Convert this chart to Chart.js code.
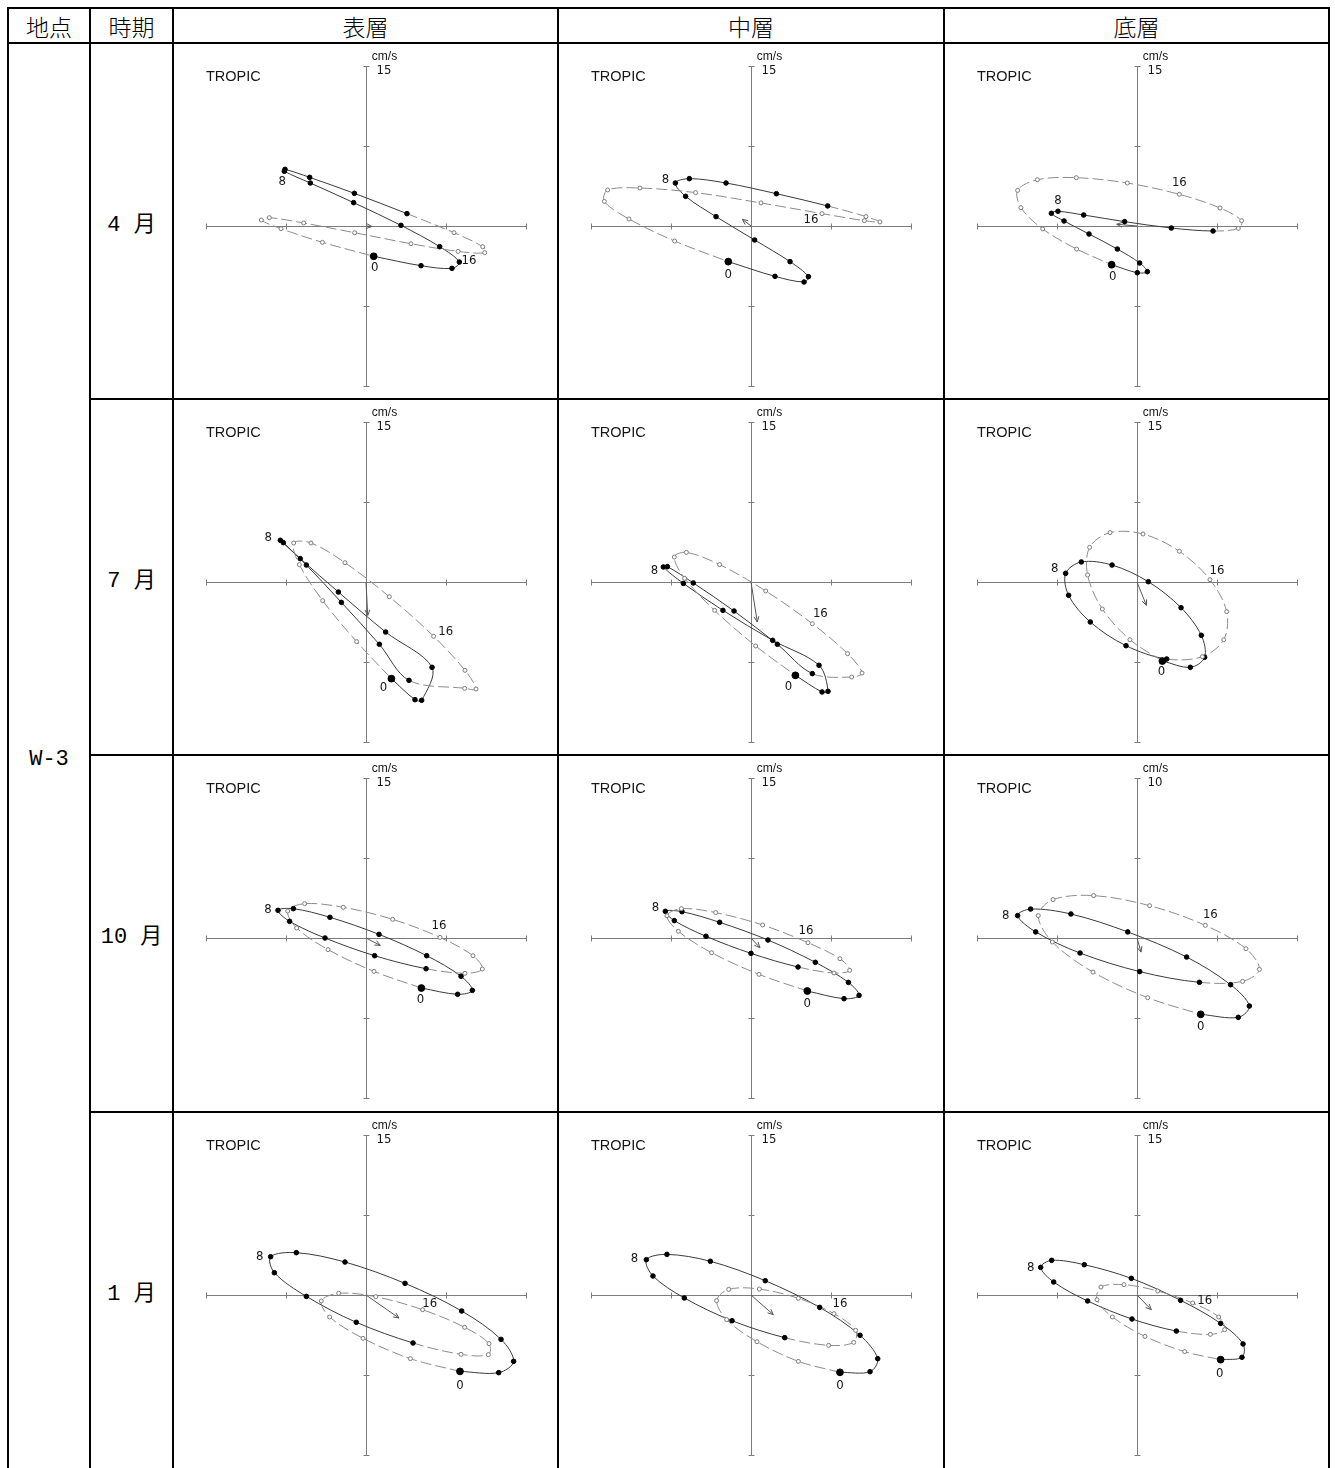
<!DOCTYPE html>
<html lang="ja">
<head>
<meta charset="utf-8">
<title>W-3 潮流楕円</title>
<script src="https://cdn.jsdelivr.net/npm/chart.js"></script>
<style>
  html, body { margin: 0; padding: 0; background: #fff; overflow: hidden; }
  #sheet { position: relative; width: 1335px; height: 1468px; overflow: hidden; }
  .rule { position: absolute; background: #000; }
  .txt { position: absolute; display: flex; align-items: center; justify-content: center; color: #000; white-space: pre; }
  canvas { position: absolute; }
</style>
</head>
<body>
<div id="sheet"></div>
<script>
// ---- table text ----
const stationName = 'W-3';
const headerNames = ['地点', '時期', '表層', '中層', '底層'];
const monthNames = ['4 月', '7 月', '10 月', '1 月'];
const hourMarks = [0, 8, 16];
// full-scale value of each panel's axes (cm/s), row by row
const axisMax = [15, 15, 15, 15, 15, 15, 15, 15, 10, 15, 15, 15];

// ---- hourly current vectors, hours 0..23 (u: east, v: north, cm/s) ----
const aprSurfaceU = [0.72, 5.16, 8.06, 8.75, 6.91, 3.28, -1.16, -5.22, -7.66, -7.59, -5.28, -1.09, 3.84, 8.25, 10.94, 11.13, 8.63, 4.22, -1.06, -5.84, -9.06, -9.81, -7.97, -4.09];
const aprSurfaceV = [-2.84, -3.72, -3.97, -3.38, -1.94, 0.06, 2.19, 4.03, 5.13, 5.31, 4.56, 3.06, 1.16, -0.63, -1.94, -2.50, -2.38, -1.66, -0.63, 0.28, 0.78, 0.56, -0.25, -1.53];
const aprMiddleU = [-2.13, 2.25, 4.97, 5.38, 3.66, 0.34, -3.28, -6.13, -7.09, -5.78, -2.34, 2.38, 7.19, 10.78, 12.09, 10.63, 6.66, 0.94, -5.19, -10.41, -13.44, -13.75, -11.44, -7.16];
const aprMiddleV = [-3.34, -4.72, -5.25, -4.75, -3.34, -1.31, 0.88, 2.78, 4.03, 4.44, 4.03, 3.03, 1.88, 0.88, 0.38, 0.50, 1.16, 2.16, 3.13, 3.56, 3.38, 2.31, 0.66, -1.41];
const aprBottomU = [-2.38, 0.03, 0.97, 0.25, -1.84, -4.50, -6.84, -8.03, -7.41, -5.00, -1.16, 3.22, 7.13, 9.50, 9.81, 7.78, 3.97, -0.91, -5.69, -9.34, -11.19, -10.88, -8.84, -5.66];
const aprBottomV = [-3.63, -4.38, -4.28, -3.47, -2.16, -0.75, 0.47, 1.19, 1.38, 1.03, 0.41, -0.19, -0.47, -0.22, 0.50, 1.69, 2.97, 4.03, 4.53, 4.34, 3.34, 1.72, -0.28, -2.16];

const julSurfaceU = [2.38, 4.59, 5.22, 6.19, 1.84, -2.59, -6.16, -8.03, -7.75, -5.59, -2.31, 1.25, 4.03, 9.25, 10.31, 9.28, 6.34, 2.19, -1.97, -5.16, -6.78, -6.25, -4.06, -0.88];
const julSurfaceV = [-9.06, -11.03, -11.09, -8.00, -4.69, -0.94, 2.19, 3.91, 3.69, 1.59, -1.91, -5.84, -9.22, -9.97, -10.03, -8.28, -5.09, -1.38, 1.81, 3.66, 3.66, 1.63, -1.75, -5.59];
const julMiddleU = [4.16, 6.66, 7.22, 6.38, 2.03, -2.63, -6.34, -8.22, -7.84, -5.41, -1.59, 2.47, 5.75, 9.44, 10.41, 9.06, 5.75, 1.38, -2.94, -6.06, -7.19, -6.22, -3.41, 0.44];
const julMiddleV = [-8.75, -10.31, -10.25, -7.81, -5.47, -2.66, -0.13, 1.41, 1.44, -0.09, -2.72, -5.84, -8.59, -8.91, -8.53, -6.72, -3.91, -0.84, 1.63, 2.78, 2.34, 0.34, -2.66, -6.00];
const julBottomU = [2.38, 5.00, 6.34, 6.03, 4.13, 1.06, -2.34, -5.22, -6.69, -6.41, -4.38, -1.03, 2.78, 6.13, 8.13, 8.41, 6.84, 3.97, 0.56, -2.53, -4.44, -4.63, -3.25, -0.66];
const julBottomV = [-7.41, -8.00, -7.06, -5.00, -2.41, 0.03, 1.59, 1.88, 0.81, -1.25, -3.75, -5.97, -7.22, -7.00, -5.41, -2.78, 0.22, 2.88, 4.50, 4.63, 3.25, 0.66, -2.53, -5.41];

const octSurfaceU = [5.19, 8.59, 9.97, 8.91, 5.69, 1.22, -3.38, -6.81, -8.25, -7.16, -3.84, 0.81, 5.63, 9.28, 10.91, 10.03, 6.94, 2.50, -2.13, -5.75, -7.34, -6.50, -3.56, 0.75];
const octSurfaceV = [-4.69, -5.28, -4.91, -3.59, -1.66, 0.34, 1.94, 2.75, 2.59, 1.56, 0.00, -1.66, -2.88, -3.31, -2.91, -1.66, 0.06, 1.75, 2.88, 3.22, 2.53, 0.94, -1.09, -3.13];
const octMiddleU = [5.28, 8.72, 10.13, 9.13, 6.03, 1.59, -2.94, -6.47, -8.03, -7.19, -4.22, 0.00, 4.41, 7.78, 9.25, 8.34, 5.34, 1.09, -3.31, -6.53, -7.88, -6.81, -3.69, 0.75];
const octMiddleV = [-4.97, -5.69, -5.38, -4.16, -2.28, -0.19, 1.47, 2.47, 2.50, 1.63, 0.16, -1.44, -2.72, -3.28, -3.03, -1.94, -0.44, 1.22, 2.38, 2.75, 2.09, 0.63, -1.38, -3.41];
const octBottomU = [3.98, 6.33, 7.02, 5.85, 3.10, -0.58, -4.13, -6.65, -7.46, -6.33, -3.56, 0.17, 3.90, 6.60, 7.65, 6.81, 4.27, 0.79, -2.71, -5.25, -6.17, -5.29, -2.75, 0.67];
const octBottomV = [-4.77, -4.96, -4.25, -2.92, -1.19, 0.38, 1.50, 1.81, 1.40, 0.38, -0.94, -2.10, -2.77, -2.71, -1.96, -0.67, 0.79, 2.02, 2.65, 2.40, 1.40, -0.25, -2.13, -3.73];

const janSurfaceU = [8.81, 12.44, 13.84, 12.66, 8.97, 3.66, -1.97, -6.53, -8.94, -8.59, -5.59, -0.91, 4.41, 8.91, 11.47, 11.53, 9.25, 5.31, 0.91, -2.56, -4.19, -3.41, -0.28, 4.16];
const janSurfaceV = [-7.16, -7.28, -6.22, -4.16, -1.50, 1.09, 3.09, 3.97, 3.59, 2.09, -0.13, -2.56, -4.50, -5.56, -5.59, -4.56, -3.03, -1.38, -0.16, 0.16, -0.56, -2.06, -4.06, -5.97];
const janMiddleU = [8.34, 11.16, 11.88, 10.22, 6.44, 1.34, -3.81, -7.88, -9.81, -9.19, -6.25, -1.78, 3.16, 7.28, 9.63, 9.81, 7.78, 4.44, 0.78, -2.09, -3.22, -2.28, 0.56, 4.44];
const janMiddleV = [-7.25, -7.19, -5.97, -3.78, -1.16, 1.34, 3.16, 3.81, 3.31, 1.78, -0.28, -2.41, -4.00, -4.72, -4.44, -3.31, -1.75, -0.31, 0.56, 0.53, -0.53, -2.31, -4.38, -6.22];
const janBottomU = [7.84, 9.84, 9.94, 7.84, 4.09, -0.53, -4.94, -8.00, -9.03, -7.81, -4.63, -0.47, 3.69, 6.88, 8.22, 7.66, 5.22, 1.94, -1.22, -3.38, -3.75, -2.31, 0.75, 4.47];
const janBottomV = [-6.06, -5.84, -4.59, -2.66, -0.50, 1.56, 2.84, 3.25, 2.59, 1.22, -0.56, -2.25, -3.38, -3.69, -3.25, -2.06, -0.75, 0.38, 0.97, 0.75, -0.44, -2.06, -3.88, -5.31];

// ---- residual (mean) current per layer: surface, middle, bottom ----
const aprResidualU = [0.55, -0.81, -1.90];
const aprResidualV = [-0.05, 0.63, 0.16];
const julResidualU = [0.16, 0.59, 0.88];
const julResidualV = [-3.13, -3.75, -2.19];
const octResidualU = [1.34, 0.84, 0.25];
const octResidualV = [-0.69, -0.91, -0.88];
const janResidualU = [3.09, 2.09, 1.34];
const janResidualV = [-2.16, -1.84, -1.38];

// ---- placement of the hour labels (px from the marked point) ----
const labelShift0 = [[1, 11], [0, 13], [1, 12], [-8, 9], [-7, 11], [-1, 11], [-1, 12], [0, 13], [0, 12], [0, 14], [0, 13], [-1, 14]];
const labelShift8 = [[-2, 10], [-10, -3], [0, -11], [-15, -5], [-13, 4], [-11, -5], [-10, -1], [-10, -4], [-12, 0], [-11, 0], [-12, -1], [-10, 0]];
const labelShift16 = [[11, 9], [-11, 6], [0, -12], [12, -5], [8, -10], [7, -9], [-1, -12], [-2, -12], [5, -11], [-35, -24], [6, -10], [12, -2]];

const seriesU = [aprSurfaceU, aprMiddleU, aprBottomU, julSurfaceU, julMiddleU, julBottomU, octSurfaceU, octMiddleU, octBottomU, janSurfaceU, janMiddleU, janBottomU];
const seriesV = [aprSurfaceV, aprMiddleV, aprBottomV, julSurfaceV, julMiddleV, julBottomV, octSurfaceV, octMiddleV, octBottomV, janSurfaceV, janMiddleV, janBottomV];
const residualU = [aprResidualU, julResidualU, octResidualU, janResidualU];
const residualV = [aprResidualV, julResidualV, octResidualV, janResidualV];

// ---- table frame ----
const sheet = document.getElementById('sheet');
const colX = [8, 90, 173, 558, 944, 1329];
const rowY = [8, 43, 399, 755, 1112, 1469];
const RULE = 2;

function rule(x, y, w, h) {
  const d = document.createElement('div');
  d.className = 'rule';
  d.style.left = x + 'px'; d.style.top = y + 'px';
  d.style.width = w + 'px'; d.style.height = h + 'px';
  sheet.appendChild(d);
}
function text(str, x1, x2, y1, y2, font) {
  const d = document.createElement('div');
  d.className = 'txt';
  d.style.left = x1 + 'px'; d.style.top = y1 + 'px';
  d.style.width = (x2 - x1) + 'px'; d.style.height = (y2 - y1) + 'px';
  d.style.font = font;
  d.textContent = str;
  sheet.appendChild(d);
}

colX.forEach(x => rule(x - RULE / 2, rowY[0] - RULE / 2, RULE, rowY[5] - rowY[0] + RULE));
rule(colX[0] - RULE / 2, rowY[0] - RULE / 2, colX[5] - colX[0] + RULE, RULE);
rule(colX[0] - RULE / 2, rowY[1] - RULE / 2, colX[5] - colX[0] + RULE, RULE);
[2, 3, 4].forEach(r => rule(colX[1] - RULE / 2, rowY[r] - RULE / 2, colX[5] - colX[1] + RULE, RULE));
rule(colX[0] - RULE / 2, rowY[5] - RULE / 2, colX[5] - colX[0] + RULE, RULE);

const headFont = '300 23px "Noto Sans CJK JP", sans-serif';
headerNames.forEach((h, i) => text(h, colX[i], colX[i + 1], rowY[0], rowY[1], headFont));
const sideFont = '400 22px "Liberation Mono", "Noto Sans CJK JP", monospace';
monthNames.forEach((m, r) => text(m, colX[1], colX[2], rowY[r + 1], rowY[r + 2], sideFont));
text(stationName, colX[0], colX[1], rowY[1] + 3, rowY[5] + 3, sideFont);

// ---- hodograph drawing helpers ----
const narrowFont = '"Liberation Sans Narrow", "DejaVu Sans Condensed", Roboto, sans-serif';

const hodoPlugin = {
  id: 'hodo',
  beforeDatasetsDraw(chart) {
    const { ctx, chartArea: a, scales: { x, y } } = chart;
    const o = chart.options.plugins.hodo;
    const x0 = Math.round(x.getPixelForValue(0)) + 0.5;
    const y0 = Math.round(y.getPixelForValue(0)) + 0.5;
    ctx.save();
    ctx.strokeStyle = '#7c7c7c';
    ctx.lineWidth = 1;
    ctx.beginPath();
    ctx.moveTo(a.left, y0); ctx.lineTo(a.right, y0);
    ctx.moveTo(x0, a.top); ctx.lineTo(x0, a.bottom);
    const half = o.max / 2;
    [-o.max, -half, half, o.max].forEach(t => {
      const px = Math.round(x.getPixelForValue(t)) + 0.5;
      ctx.moveTo(px, y0 - 3); ctx.lineTo(px, y0 + 3);
      const py = Math.round(y.getPixelForValue(t)) + 0.5;
      ctx.moveTo(x0 - 3, py); ctx.lineTo(x0 + 3, py);
    });
    ctx.stroke();

    ctx.fillStyle = '#151515';
    ctx.textBaseline = 'alphabetic';
    ctx.textAlign = 'left';
    ctx.font = '14.5px "Liberation Sans", Arial, sans-serif';
    ctx.fillText('TROPIC', a.left, a.top + 15);
    ctx.font = '12px "Liberation Sans", Arial, sans-serif';
    ctx.textAlign = 'center';
    ctx.fillText('cm/s', x0 + 18, a.top - 6);
    ctx.font = '13px ' + narrowFont;
    ctx.textAlign = 'left';
    ctx.fillText(String(o.max), x0 + 10, a.top + 8);
    ctx.restore();
  },
  afterDatasetsDraw(chart) {
    const { ctx, scales: { x, y } } = chart;
    const o = chart.options.plugins.hodo;
    ctx.save();
    // arrowhead of the residual current
    const r = chart.data.datasets[1].data;
    const sx = x.getPixelForValue(r[0].x), sy = y.getPixelForValue(r[0].y);
    const ex = x.getPixelForValue(r[1].x), ey = y.getPixelForValue(r[1].y);
    const ang = Math.atan2(ey - sy, ex - sx);
    ctx.strokeStyle = '#555';
    ctx.lineWidth = 1;
    ctx.beginPath();
    [-0.42, 0.42].forEach(d => {
      ctx.moveTo(ex, ey);
      ctx.lineTo(ex - 6 * Math.cos(ang + d), ey - 6 * Math.sin(ang + d));
    });
    ctx.stroke();
    // hour labels
    const pts = chart.data.datasets[0].data;
    ctx.fillStyle = '#151515';
    ctx.font = '13px ' + narrowFont;
    ctx.textAlign = 'center';
    ctx.textBaseline = 'middle';
    hourMarks.forEach((h, k) => {
      const p = pts[h];
      const s = o.shifts[k];
      ctx.fillText(String(h), x.getPixelForValue(p.x) + s[0], y.getPixelForValue(p.y) + s[1]);
    });
    ctx.restore();
  }
};

function makePanel(idx) {
  const row = Math.floor(idx / 3), col = idx % 3;
  const u = seriesU[idx], v = seriesV[idx];
  const pts = u.map((val, i) => ({ x: val, y: v[i] }));
  pts.push({ x: u[0], y: v[0] }); // close the 24-hour loop
  const n = pts.length;
  const radius = pts.map((_, i) => i === 0 ? 3.4 : (i === n - 1 ? 0 : (i <= 12 ? 2.3 : 2.0)));
  const fill = pts.map((_, i) => i <= 12 ? '#000' : '#fff');
  const edge = pts.map((_, i) => i <= 12 ? '#000' : '#7a7a7a');

  const cv = document.createElement('canvas');
  cv.width = 384; cv.height = 355;
  cv.style.left = (colX[col + 2] + 1) + 'px';
  cv.style.top = (rowY[row + 1] + 1) + 'px';
  cv.style.width = '384px'; cv.style.height = '355px';
  sheet.appendChild(cv);

  const m = axisMax[idx];
  new Chart(cv, {
    type: 'scatter',
    data: {
      datasets: [
        {
          data: pts,
          showLine: true,
          tension: 0.33,
          borderWidth: 1,
          borderColor: '#3a3a3a',
          segment: {
            borderColor: ctx => ctx.p0DataIndex >= 12 ? '#8c8c8c' : '#3a3a3a',
            borderDash: ctx => ctx.p0DataIndex >= 12 ? [11, 4] : []
          },
          pointRadius: radius,
          pointBackgroundColor: fill,
          pointBorderColor: edge,
          pointBorderWidth: 1
        },
        {
          data: [{ x: 0, y: 0 }, { x: residualU[row][col], y: residualV[row][col] }],
          showLine: true,
          tension: 0,
          borderWidth: 1,
          borderColor: '#555',
          pointRadius: 0
        }
      ]
    },
    options: {
      responsive: false,
      animation: false,
      devicePixelRatio: 1,
      layout: { padding: { left: 32, right: 32, top: 22, bottom: 13 } },
      scales: {
        x: { type: 'linear', min: -m, max: m, display: false },
        y: { type: 'linear', min: -m, max: m, display: false }
      },
      plugins: {
        legend: { display: false },
        tooltip: { enabled: false },
        hodo: { max: m, shifts: [labelShift0[idx], labelShift8[idx], labelShift16[idx]] }
      },
      events: []
    },
    plugins: [hodoPlugin]
  });
}

for (let i = 0; i < 12; i++) makePanel(i);
</script>
</body>
</html>
